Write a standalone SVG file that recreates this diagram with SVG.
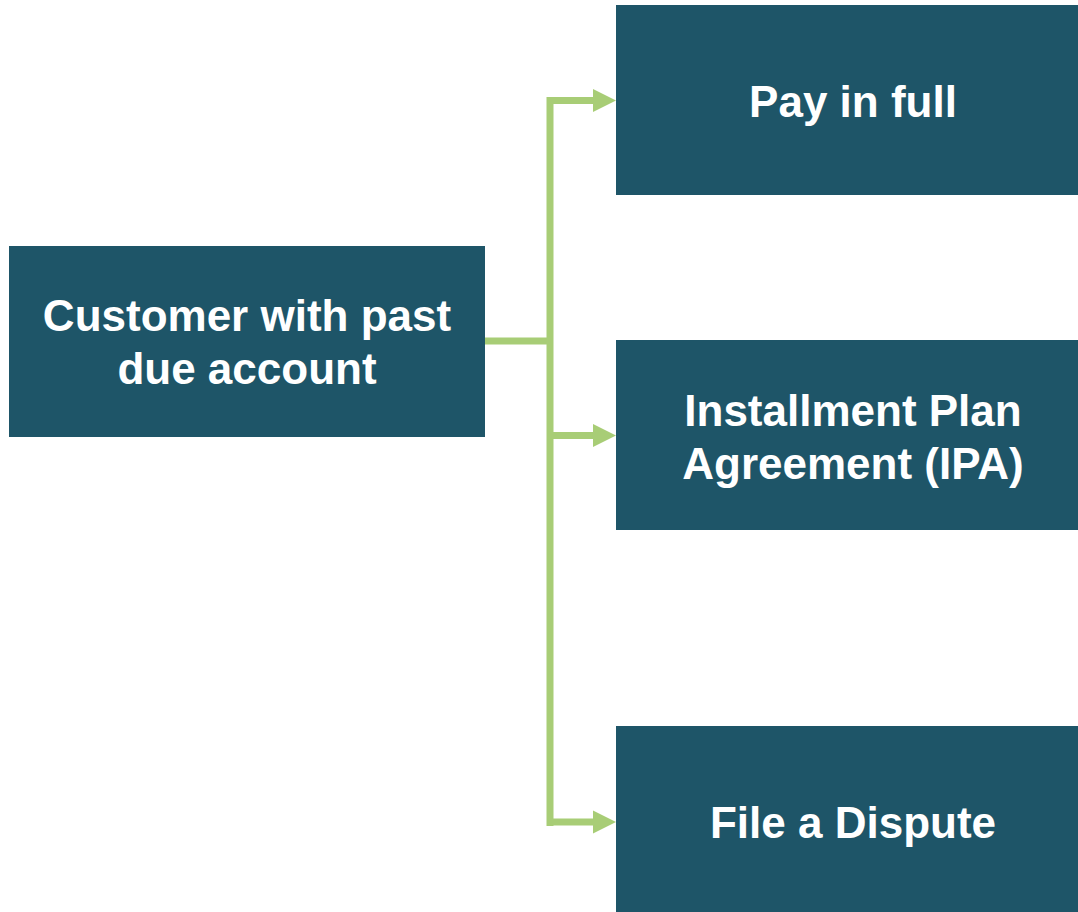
<svg xmlns="http://www.w3.org/2000/svg" width="1078" height="912" viewBox="0 0 1078 912">
<style>
.box{fill:#1E5568}
.t{font-family:"Liberation Sans",Arial,sans-serif;font-weight:bold;font-size:44px;fill:#FFFFFF;text-anchor:middle}
.c{fill:none;stroke:#A8CD76;stroke-width:7}
.ah{fill:#A8CD76}
</style>
<defs>
<marker id="arr" markerUnits="userSpaceOnUse" markerWidth="24" markerHeight="24" refX="23" refY="12" orient="auto">
<path class="ah" d="M0,0.5 L23,12 L0,23.5 Z"/>
</marker>
</defs>
<rect width="1078" height="912" fill="#FFFFFF"/>
<g id="connectors">
<path class="c" d="M485,341 H550"/>
<path class="c" d="M550,826 V100.5 H594"/>
<path class="c" d="M550,435.5 H594"/>
<path class="c" d="M550,822 H594"/>
<path class="ah" d="M593,89 L616,100.5 L593,112 Z"/>
<path class="ah" d="M593,424 L616,435.5 L593,447 Z"/>
<path class="ah" d="M593,810.5 L616,822 L593,833.5 Z"/>
</g>
<g id="customer">
<rect class="box" x="9" y="246" width="476" height="191"/>
<text class="t" x="247" y="331">Customer with past</text>
<text class="t" x="247" y="384">due account</text>
</g>
<g id="pay-in-full">
<rect class="box" x="616" y="5" width="474" height="190"/>
<text class="t" x="853" y="117">Pay in full</text>
</g>
<g id="ipa">
<rect class="box" x="616" y="340" width="474" height="190"/>
<text class="t" x="853" y="426">Installment Plan</text>
<text class="t" x="853" y="479">Agreement (IPA)</text>
</g>
<g id="dispute">
<rect class="box" x="616" y="726" width="474" height="190"/>
<text class="t" x="853" y="838">File a Dispute</text>
</g>
</svg>
